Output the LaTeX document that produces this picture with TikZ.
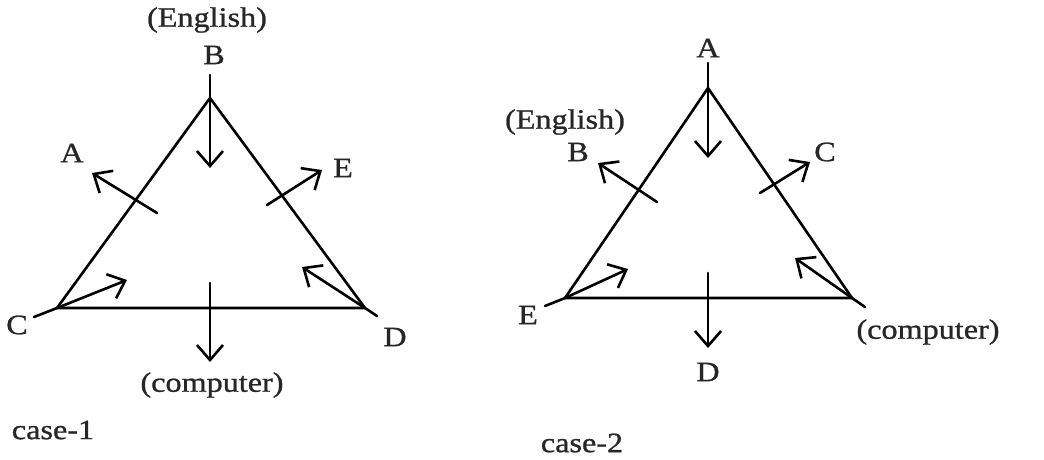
\documentclass[tikz,border=0pt]{standalone}
\usepackage{fontspec}
\setmainfont[FakeStretch=1.15,FakeBold=0.9]{Liberation Serif}
\usetikzlibrary{arrows.meta}
\begin{document}
\begin{tikzpicture}[x=1pt,y=-1pt,
  edge/.style={line width=2.6pt, line cap=round, line join=round},
  arr/.style={edge, -{Straight Barb[length=15pt,width=26pt]}},
  lbl/.style={font=\fontsize{28}{30}\selectfont, inner sep=0pt, text=black!85}]
\useasboundingbox (0,0) rectangle (1044,459);
% ---------- case 1 ----------
\coordinate (B1) at (210,98);
\coordinate (B1t) at (210,75);
\coordinate (C1) at (57,308);
\coordinate (C1t) at (34,317);
\coordinate (D1) at (365,308);
\coordinate (D1t) at (377,316);
\coordinate (v1e) at (210,168);
\coordinate (c1a) at (127,280);
\coordinate (d1a) at (302,267);
\coordinate (l1s) at (157,213);
\coordinate (l1e) at (92,173);
\coordinate (r1s) at (267,205);
\coordinate (r1e) at (322,170);
\coordinate (b1s) at (210,283);
\coordinate (b1e) at (210,362);
\draw[edge] (B1) -- (C1) -- (D1) -- cycle;
\draw[edge] (B1t) -- (B1);
\draw[edge] (C1) -- (C1t);
\draw[edge] (D1) -- (D1t);
\draw[arr] (B1) -- (v1e);
\draw[arr] (C1) -- (c1a);
\draw[arr] (D1) -- (d1a);
\draw[arr] (l1s) -- (l1e);
\draw[arr] (r1s) -- (r1e);
\draw[arr] (b1s) -- (b1e);
\node[lbl] (eng1) at (207,20) {(English)};
\node[lbl] (lB1) at (214,55) {B};
\node[lbl] (lA1) at (72,153) {A};
\node[lbl] (lE1) at (343,168) {E};
\node[lbl] (lC1) at (17,325) {C};
\node[lbl] (lD1) at (395,337) {D};
\node[lbl] (comp1) at (212,385) {(computer)};
\node[lbl] (case1) at (53,430) {case-1};
% ---------- case 2 ----------
\coordinate (A2) at (708,88);
\coordinate (A2t) at (708,63);
\coordinate (E2) at (565,298);
\coordinate (E2t) at (545,306);
\coordinate (P2) at (852,298);
\coordinate (P2t) at (865,307);
\coordinate (v2e) at (708,158);
\coordinate (e2a) at (628,269);
\coordinate (p2a) at (795,258);
\coordinate (l2s) at (657,202);
\coordinate (l2e) at (598,163);
\coordinate (r2s) at (760,193);
\coordinate (r2e) at (810,162);
\coordinate (b2s) at (708,273);
\coordinate (b2e) at (708,348);
\draw[edge] (A2) -- (E2) -- (P2) -- cycle;
\draw[edge] (A2t) -- (A2);
\draw[edge] (E2) -- (E2t);
\draw[edge] (P2) -- (P2t);
\draw[arr] (A2) -- (v2e);
\draw[arr] (E2) -- (e2a);
\draw[arr] (P2) -- (p2a);
\draw[arr] (l2s) -- (l2e);
\draw[arr] (r2s) -- (r2e);
\draw[arr] (b2s) -- (b2e);
\node[lbl] (lA2) at (708,48) {A};
\node[lbl] (eng2) at (565,122) {(English)};
\node[lbl] (lB2) at (578,152) {B};
\node[lbl] (lC2) at (825,152) {C};
\node[lbl] (lE2) at (528,315) {E};
\node[lbl] (comp2) at (928,332) {(computer)};
\node[lbl] (lD2) at (708,372) {D};
\node[lbl] (case2) at (582,443) {case-2};
\end{tikzpicture}
\end{document}
